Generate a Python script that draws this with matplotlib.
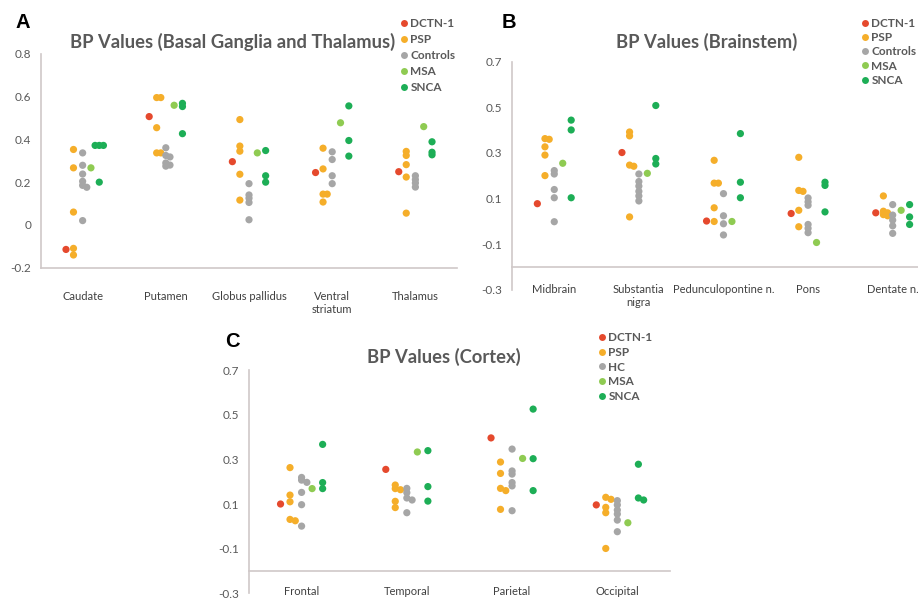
import matplotlib
matplotlib.use('Agg')
import matplotlib.pyplot as plt
from matplotlib.lines import Line2D

plt.rcParams['font.family'] = ['Lato', 'DejaVu Sans']

series_names = ['DCTN-1', 'PSP', 'Controls', 'MSA', 'SNCA']
series_names_c = ['DCTN-1', 'PSP', 'HC', 'MSA', 'SNCA']
colors = ['#E5492D', '#F5AE2A', '#A6A6A6', '#8FCB52', '#1DAE56']

# panel A: basal ganglia and thalamus
a_categories = ['Caudate', 'Putamen', 'Globus pallidus', 'Ventral\nstriatum', 'Thalamus']
a_dctn1 = [[-0.115], [0.507], [0.296], [0.245], [0.249]]
a_psp = [[0.353, 0.267, 0.06, -0.11, -0.141],
         [0.596, 0.596, 0.455, 0.337, 0.337],
         [0.493, 0.369, 0.345, 0.237, 0.116],
         [0.359, 0.262, 0.144, 0.144, 0.107],
         [0.344, 0.325, 0.282, 0.224, 0.055]]
a_controls = [[0.337, 0.279, 0.238, 0.204, 0.185, 0.176, 0.02],
              [0.361, 0.325, 0.318, 0.29, 0.28, 0.275],
              [0.193, 0.14, 0.125, 0.105, 0.024],
              [0.342, 0.306, 0.23, 0.193],
              [0.23, 0.212, 0.196, 0.177]]
a_msa = [[0.267], [0.56], [0.337], [0.478], [0.46]]
a_snca = [[0.372, 0.372, 0.372, 0.2],
          [0.569, 0.554, 0.427],
          [0.348, 0.23, 0.2],
          [0.557, 0.395, 0.322],
          [0.389, 0.34, 0.328]]

# panel B: brainstem
b_categories = ['Midbrain', 'Substantia\nnigra', 'Pedunculopontine n.', 'Pons', 'Dentate n.']
b_dctn1 = [[0.078], [0.302], [0.002], [0.035], [0.038]]
b_psp = [[0.363, 0.36, 0.327, 0.291, 0.201],
         [0.392, 0.375, 0.247, 0.242, 0.02],
         [0.268, 0.168, 0.168, 0.06, 0.0],
         [0.281, 0.136, 0.132, 0.049, -0.023],
         [0.112, 0.045, 0.038, 0.03, 0.025]]
b_controls = [[0.223, 0.208, 0.14, 0.104, -0.001],
              [0.208, 0.175, 0.155, 0.132, 0.112, 0.09],
              [0.122, 0.025, -0.01, -0.059],
              [0.103, 0.086, 0.071, -0.013, -0.03, -0.049],
              [0.074, 0.028, 0.006, -0.019, -0.052]]
b_msa = [[0.255], [0.211], [0.0], [-0.092], [0.049]]
b_snca = [[0.444, 0.401, 0.104],
          [0.508, 0.276, 0.252],
          [0.385, 0.172, 0.104],
          [0.172, 0.158, 0.042],
          [0.074, 0.02, -0.013]]

# panel C: cortex
c_categories = ['Frontal', 'Temporal', 'Parietal', 'Occipital']
c_dctn1 = [[0.1], [0.255], [0.396], [0.096]]
c_psp = [[0.263, 0.14, 0.11, 0.031, 0.025],
         [0.185, 0.169, 0.164, 0.112, 0.084],
         [0.288, 0.237, 0.17, 0.16, 0.076],
         [0.13, 0.121, 0.085, 0.061, -0.099]]
c_hc = [[0.219, 0.207, 0.197, 0.152, 0.097, 0.001],
        [0.17, 0.151, 0.127, 0.118, 0.061],
        [0.346, 0.248, 0.234, 0.196, 0.181, 0.07],
        [0.115, 0.096, 0.073, 0.055, 0.028, -0.024]]
c_msa = [[0.169], [0.333], [0.304], [0.016]]
c_snca = [[0.367, 0.196, 0.169],
          [0.339, 0.178, 0.113],
          [0.525, 0.303, 0.16],
          [0.278, 0.127, 0.118]]

offsets = [-0.2, -0.11, 0.0, 0.1, 0.2]


def spread(vals, tol=0.012):
    # nudge overlapping points sideways
    placed, out = [], []
    for v in vals:
        for s in (0, 0.05, -0.05, 0.1, -0.1):
            if all(abs(v - pv) >= tol or abs(s - ps) >= 0.04 for pv, ps in placed):
                break
        placed.append((v, s))
        out.append(s)
    return out


def draw_panel(ax, categories, series, yticks, ylabels, ylim, axis_y, label_va, label_pad):
    for k, vals in enumerate(series):
        xs, ys = [], []
        for i, pts in enumerate(vals):
            for v, s in zip(pts, spread(pts)):
                xs.append(i + offsets[k] + s)
                ys.append(v)
        ax.scatter(xs, ys, s=27, color=colors[k], edgecolors='none', zorder=3)
    ax.set_xlim(-0.5, len(categories) - 0.5)
    ax.set_ylim(*ylim)
    ax.set_yticks(yticks)
    ax.set_yticklabels(ylabels)
    ax.set_xticks(range(len(categories)))
    ax.set_xticklabels(categories, va=label_va, linespacing=1.0)
    ax.tick_params(axis='y', length=0, pad=7, labelsize=8.5, labelcolor='#595959')
    ax.tick_params(axis='x', length=0, pad=label_pad, labelsize=8, labelcolor='#404040')
    for side in ['top', 'right']:
        ax.spines[side].set_visible(False)
    ax.spines['bottom'].set_position(('data', axis_y))
    for side in ['left', 'bottom']:
        ax.spines[side].set_color('#CFC8C8')
        ax.spines[side].set_linewidth(1.2)


def add_legend(fig, names, x, y, spacing):
    handles = [Line2D([], [], marker='o', linestyle='none', markersize=5,
                      markerfacecolor=c, markeredgecolor='none') for c in colors]
    leg = fig.legend(handles, names, loc='upper left', bbox_to_anchor=(x, y),
                     bbox_transform=fig.transFigure, frameon=False, fontsize=8.5,
                     handlelength=0.5, handletextpad=0.3, labelspacing=spacing,
                     borderpad=0, borderaxespad=0)
    for t in leg.get_texts():
        t.set_color('#595959')
        t.set_fontweight('bold')


fig = plt.figure(figsize=(9.18, 6.0), dpi=100)

ax_a = fig.add_axes([0.0447, 0.554, 0.4531, 0.356])
draw_panel(ax_a, a_categories, [a_dctn1, a_psp, a_controls, a_msa, a_snca],
           [0.8, 0.6, 0.4, 0.2, 0.0, -0.2], ['0.8', '0.6', '0.4', '0.2', '0', '-0.2'],
           (-0.2, 0.8), -0.2, 'center', 17)

ax_b = fig.add_axes([0.5577, 0.5167, 0.4608, 0.3805])
draw_panel(ax_b, b_categories, [b_dctn1, b_psp, b_controls, b_msa, b_snca],
           [0.7, 0.5, 0.3, 0.1, -0.1, -0.3], ['0.7', '0.5', '0.3', '0.1', '-0.1', '-0.3'],
           (-0.3, 0.7), -0.2, 'top', 12)

ax_c = fig.add_axes([0.2712, 0.0111, 0.4586, 0.3722])
draw_panel(ax_c, c_categories, [c_dctn1, c_psp, c_hc, c_msa, c_snca],
           [0.7, 0.5, 0.3, 0.1, -0.1, -0.3], ['0.7', '0.5', '0.3', '0.1', '-0.1', '-0.3'],
           (-0.3, 0.7), -0.2, 'top', 11)

title_kw = dict(ha='center', va='center', fontsize=13.2, fontweight='bold', color='#595959')
fig.text(233 / 918, 1 - 42 / 600, 'BP Values (Basal Ganglia and Thalamus)', **title_kw)
fig.text(707 / 918, 1 - 42 / 600, 'BP Values (Brainstem)', **title_kw)
fig.text(444 / 918, 1 - 357 / 600, 'BP Values (Cortex)', **title_kw)

letter_kw = dict(ha='center', va='center', fontsize=14.5, fontweight='bold', color='black',
                 family=['Liberation Sans', 'DejaVu Sans'])
fig.text(23 / 918, 1 - 23 / 600, 'A', **letter_kw)
fig.text(509 / 918, 1 - 23 / 600, 'B', **letter_kw)
fig.text(232 / 918, 1 - 342 / 600, 'C', **letter_kw)

add_legend(fig, series_names, 401 / 918, 1 - 18 / 600, 0.42)
add_legend(fig, series_names, 862 / 918, 1 - 18 / 600, 0.27)
add_legend(fig, series_names_c, 599 / 918, 1 - 332 / 600, 0.32)

fig.savefig('out.png', dpi=100, facecolor='white')
